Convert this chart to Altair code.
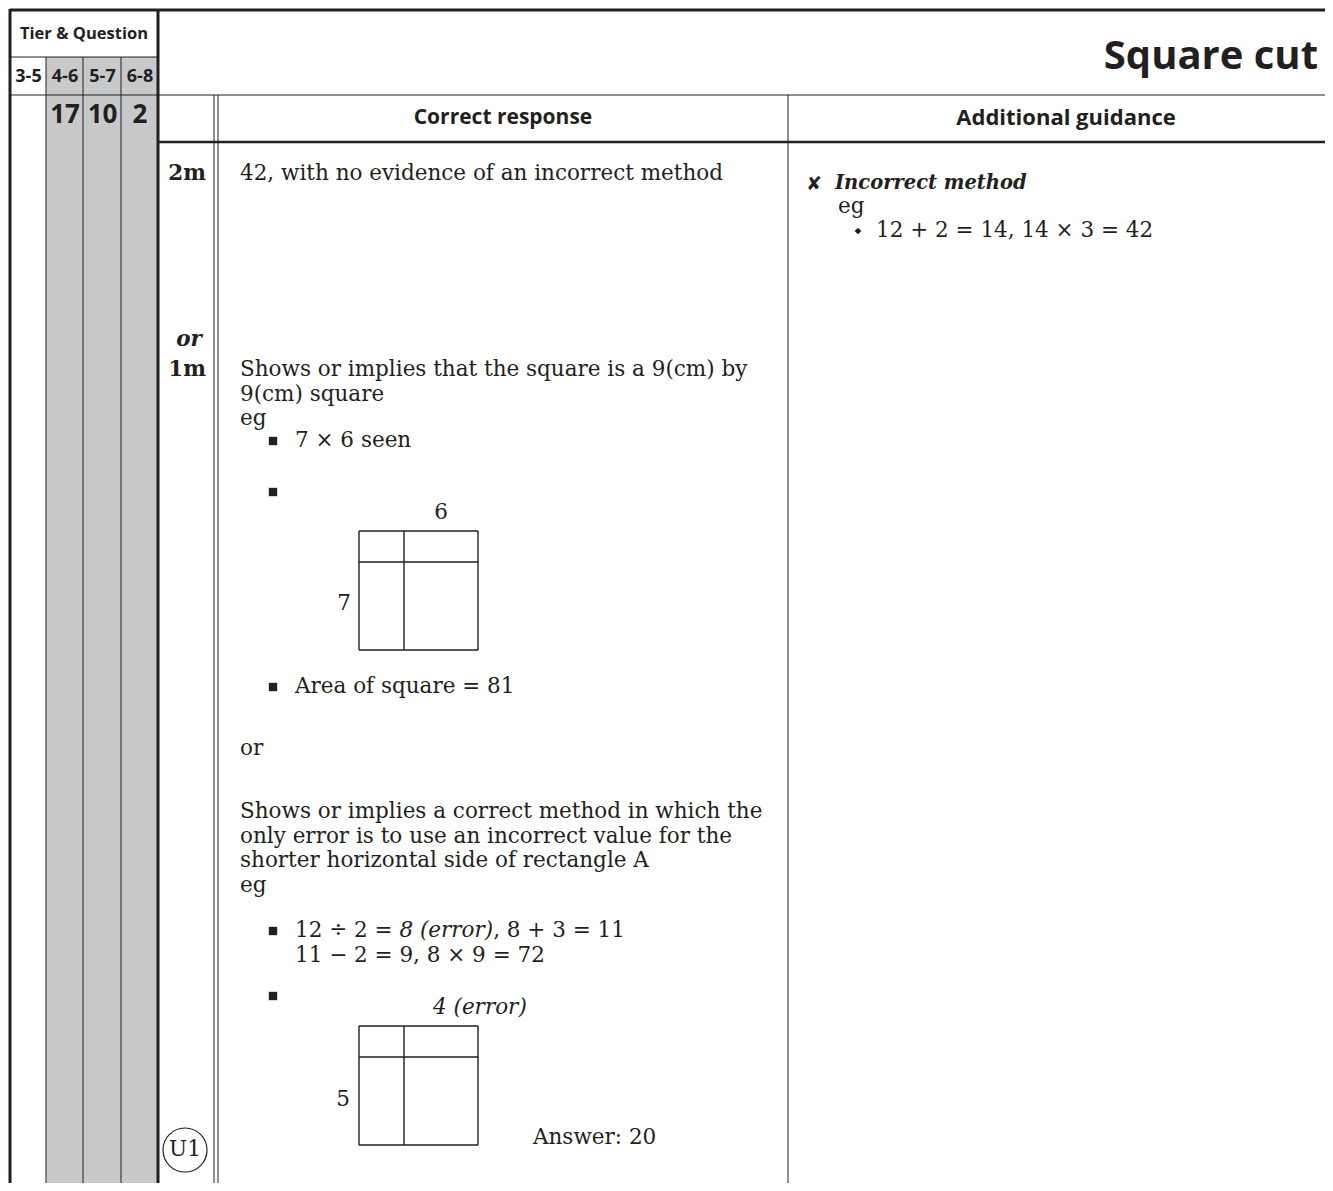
import altair as alt
import pandas as pd

# ---------------- content (text of the marking-scheme page) ----------------
tier_header = "Tier & Question"
tier_ranges = ["3-5", "4-6", "5-7", "6-8"]
question_numbers = ["", "17", "10", "2"]
title_text = "Square cut"
column_heads = ["Correct response", "Additional guidance"]
mark_labels = ["2m", "1m"]
mark_or = "or"
response_2m = ["42, with no evidence of an incorrect method"]
response_1m_a = ["Shows or implies that the square is a 9(cm) by", "9(cm) square", "eg"]
bullets_a = ["7 × 6 seen", "", "Area of square = 81"]
diagram_a_labels = ["6", "7"]
or_text = "or"
response_1m_b = [
    "Shows or implies a correct method in which the",
    "only error is to use an incorrect value for the",
    "shorter horizontal side of rectangle A",
    "eg",
]
bullet_b1_parts = ["12 ÷ 2 = ", "8 (error)", ", 8 + 3 = 11"]
bullet_b1_styles = ["normal", "italic", "normal"]
bullet_b1_line2 = "11 − 2 = 9, 8 × 9 = 72"
diagram_b_labels = ["4 (error)", "5"]
answer_b = "Answer: 20"
guidance_mark = "✘"
guidance_head = "Incorrect method"
guidance_eg = "eg"
guidance_examples = ["12 + 2 = 14, 14 × 3 = 42"]
u_code = "U1"

# ---------------- layout (page geometry, px) ----------------
W, H = 1317, 1175
X0, Y0 = 8, 8
PAGE_R, PAGE_B = 1333, 1191
BORDER_L, BORDER_T, TIER_R = 10, 10, 158
ROW1, ROW2, ROW3 = 57, 95, 142
TIER_COLS = [10, 46, 83, 121, 158]
MARK_DBL = [214, 218]
GUIDE_X = 788
SERIF = "DejaVu Serif"
SANS = "Open Sans"
FS = 21.5
INK = "#231f20"
GREY = "#c8c9cb"

xs = alt.Scale(domain=[X0, X0 + W], nice=False, zero=False, clamp=True)
ys = alt.Scale(domain=[Y0, Y0 + H], nice=False, zero=False, clamp=True, reverse=True)

# DejaVu Serif advance widths (em) for the characters of the split line
ADV = {" ": .318, ",": .318, "(": .390, ")": .390, "=": .838, "÷": .838, "+": .838,
       "e": .592, "r": .478, "o": .602}


def text_width(s, size):
    return sum(ADV.get(ch, .636) for ch in s) * size


# ---------------- frames ----------------
rules = pd.DataFrame([
    # outer frame
    dict(x=BORDER_L, x2=BORDER_L, y=BORDER_T - 1, y2=PAGE_B, w=3),
    dict(x=BORDER_L, x2=PAGE_R, y=BORDER_T, y2=BORDER_T, w=3),
    dict(x=TIER_R, x2=TIER_R, y=BORDER_T, y2=PAGE_B, w=3),
    # tier rows
    dict(x=BORDER_L, x2=TIER_R, y=ROW1, y2=ROW1, w=1),
    dict(x=BORDER_L, x2=PAGE_R, y=ROW2, y2=ROW2, w=1),
    dict(x=TIER_R, x2=PAGE_R, y=ROW3, y2=ROW3, w=2.5),
    # tier columns
    *[dict(x=c, x2=c, y=ROW1, y2=PAGE_B, w=1) for c in TIER_COLS[1:4]],
    # mark column double rule and guidance divider
    *[dict(x=c, x2=c, y=ROW2, y2=PAGE_B, w=1) for c in MARK_DBL],
    dict(x=GUIDE_X, x2=GUIDE_X, y=ROW2, y2=PAGE_B, w=1),
])

grey = pd.DataFrame([dict(x=TIER_COLS[1], x2=TIER_R, y=ROW1, y2=PAGE_B)])

# diagrams: outer square and the two dividing lines
DIAG_L, DIAG_R, DIAG_V = 359, 478, 404
diag_tops = [531, 1026]
diag_size = 119
diag_split = 31
diagram_rules = []
for t in diag_tops:
    b = t + diag_size
    diagram_rules += [
        dict(x=DIAG_L, x2=DIAG_R, y=t, y2=t), dict(x=DIAG_L, x2=DIAG_R, y=b, y2=b),
        dict(x=DIAG_L, x2=DIAG_L, y=t, y2=b), dict(x=DIAG_R, x2=DIAG_R, y=t, y2=b),
        dict(x=DIAG_V, x2=DIAG_V, y=t, y2=b),
        dict(x=DIAG_L, x2=DIAG_R, y=t + diag_split, y2=t + diag_split),
    ]
diagram_rules = pd.DataFrame(diagram_rules)

# sans bold, centred
sans_center = pd.DataFrame(
    [dict(x=(TIER_COLS[0] + TIER_R) / 2, y=34, text=tier_header, fs=16.5)]
    + [dict(x=(TIER_COLS[i] + TIER_COLS[i + 1]) / 2 + 0.5, y=77, text=t, fs=18)
       for i, t in enumerate(tier_ranges)]
    + [dict(x=(TIER_COLS[i] + TIER_COLS[i + 1]) / 2 + 0.5, y=115, text=t, fs=26)
       for i, t in enumerate(question_numbers) if t]
    + [dict(x=503, y=118, text=column_heads[0], fs=21),
       dict(x=1066, y=118, text=column_heads[1], fs=22)]
)
sans_right = pd.DataFrame([dict(x=1318, y=57, text=title_text, fs=40)])

TX, BX, BT = 240, 273, 295   # text start, bullet centre, bullet-text start
LH = 24.5

serif_left = []
serif_left.append(dict(x=TX, y=174, text=response_2m[0]))
for i, t in enumerate(response_1m_a):
    serif_left.append(dict(x=TX, y=370 + i * LH, text=t))
bul_a_y = [441, 492, 687]
for t, yy in zip(bullets_a, bul_a_y):
    if t:
        serif_left.append(dict(x=BT, y=yy, text=t))
serif_left.append(dict(x=TX, y=749, text=or_text))
for i, t in enumerate(response_1m_b):
    serif_left.append(dict(x=TX, y=812 + i * LH, text=t))
bul_b_y = [931, 996]
# split first line of bullet b1 into regular / italic pieces
px = BT
italic_left = []
for part, st in zip(bullet_b1_parts, bullet_b1_styles):
    row = dict(x=px, y=bul_b_y[0], text=part)
    (italic_left if st == "italic" else serif_left).append(row)
    px += text_width(part, FS)
serif_left.append(dict(x=BT, y=bul_b_y[0] + LH, text=bullet_b1_line2))
italic_left.append(dict(x=433, y=1008, text=diagram_b_labels[0]))
serif_left.append(dict(x=533, y=1138, text=answer_b))
serif_left.append(dict(x=838, y=207, text=guidance_eg))
serif_left.append(dict(x=876, y=231, text=guidance_examples[0]))
serif_left = pd.DataFrame(serif_left).assign(fs=FS)
italic_left = pd.DataFrame(italic_left).assign(fs=FS)

serif_center = pd.DataFrame([
    dict(x=441, y=513, text=diagram_a_labels[0]),
    dict(x=344, y=604, text=diagram_a_labels[1]),
    dict(x=343, y=1100, text=diagram_b_labels[1]),
    dict(x=185, y=1150, text=u_code),
]).assign(fs=FS)

bold_right = pd.DataFrame([
    dict(x=206, y=174, text=mark_labels[0]),
    dict(x=206, y=370, text=mark_labels[1]),
]).assign(fs=FS)
bold_italic_center = pd.DataFrame([dict(x=189, y=340, text=mark_or)]).assign(fs=FS)
bold_italic_left = pd.DataFrame([dict(x=835, y=183, text=guidance_head)]).assign(fs=19.5)
cross = pd.DataFrame([dict(x=814, y=184, text=guidance_mark, fs=19)])

squares = pd.DataFrame([dict(x=BX, y=yy) for yy in bul_a_y + bul_b_y])
diamonds = pd.DataFrame([dict(x=858, y=231)])
circles = pd.DataFrame([dict(x=185, y=1150)])

X = lambda f="x": alt.X(f"{f}:Q", scale=xs, axis=None)
Y = lambda f="y": alt.Y(f"{f}:Q", scale=ys, axis=None)


def texts(df, font, weight="normal", style="normal", align="left"):
    return alt.Chart(df).mark_text(
        font=font, fontWeight=weight, fontStyle=style, align=align,
        baseline="middle", color=INK,
    ).encode(x=X(), y=Y(), text="text:N",
             size=alt.Size("fs:Q", scale=None, legend=None))


layers = [
    alt.Chart(grey).mark_rect(color=GREY).encode(x=X(), x2="x2:Q", y=Y(), y2="y2:Q"),
    alt.Chart(rules).mark_rule(color=INK).encode(
        x=X(), x2="x2:Q", y=Y(), y2="y2:Q",
        strokeWidth=alt.StrokeWidth("w:Q", scale=None, legend=None)),
    alt.Chart(diagram_rules).mark_rule(color=INK, strokeWidth=1.4).encode(
        x=X(), x2="x2:Q", y=Y(), y2="y2:Q"),
    texts(sans_center, SANS, "bold", align="center"),
    texts(sans_right, SANS, "bold", align="right"),
    texts(serif_left, SERIF),
    texts(italic_left, SERIF, style="italic"),
    texts(serif_center, SERIF, align="center"),
    texts(bold_right, SERIF, "bold", align="right"),
    texts(bold_italic_center, SERIF, "bold", "italic", align="center"),
    texts(bold_italic_left, SERIF, "bold", "italic"),
    texts(cross, "DejaVu Sans", "bold", align="center"),
    alt.Chart(squares).mark_point(shape="square", filled=True, size=70, color=INK, opacity=1).encode(x=X(), y=Y()),
    alt.Chart(diamonds).mark_point(shape="diamond", filled=True, size=45, color=INK, opacity=1).encode(x=X(), y=Y()),
    alt.Chart(circles).mark_point(shape="circle", filled=False, size=44 * 44, color=INK,
                                  strokeWidth=1.2, opacity=1).encode(x=X(), y=Y()),
]

chart = alt.layer(*layers).properties(
    width=W, height=H, padding=0,
    autosize=alt.AutoSizeParams(type="none"),
    background="white",
).configure_view(stroke=None)

chart.save("out.html", embed_options={"renderer": "svg", "actions": False})
